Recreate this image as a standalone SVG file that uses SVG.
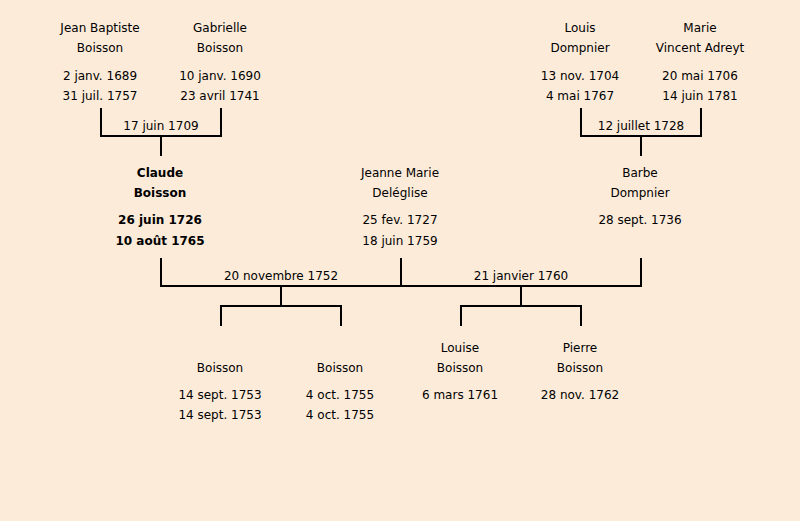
<svg xmlns="http://www.w3.org/2000/svg" width="800" height="521" viewBox="0 0 800 521">
<style>
text{font-family:"DejaVu Sans","Liberation Sans",sans-serif;font-size:12px;fill:#000;text-anchor:middle}
.b{font-weight:bold}
.c path{fill:none;stroke:#000;stroke-width:2}
</style>
<rect width="800" height="521" fill="#FCEBD9"/>
<g class="c" id="connectors">
<path d="M101 108V136H221V108M161 136V156"/>
<path d="M581 108V136H701V108M641 136V156"/>
<path d="M161 258V286H641V258M401 258V286M281 286V306M521 286V306"/>
<path d="M221 326V306H341V326"/>
<path d="M461 326V306H581V326"/>
</g>
<g id="labels">
<text x="161" y="130">17 juin 1709</text>
<text x="641" y="130">12 juillet 1728</text>
<text x="281" y="280">20 novembre 1752</text>
<text x="521" y="280">21 janvier 1760</text>
</g>
<g id="jean"><text x="100" y="32">Jean Baptiste</text><text x="100" y="52">Boisson</text><text x="100" y="80">2 janv. 1689</text><text x="100" y="100">31 juil. 1757</text></g>
<g id="gabrielle"><text x="220" y="32">Gabrielle</text><text x="220" y="52">Boisson</text><text x="220" y="80">10 janv. 1690</text><text x="220" y="100">23 avril 1741</text></g>
<g id="louis"><text x="580" y="32">Louis</text><text x="580" y="52">Dompnier</text><text x="580" y="80">13 nov. 1704</text><text x="580" y="100">4 mai 1767</text></g>
<g id="marie"><text x="700" y="32">Marie</text><text x="700" y="52">Vincent Adreyt</text><text x="700" y="80">20 mai 1706</text><text x="700" y="100">14 juin 1781</text></g>
<g id="claude" class="b"><text class="b" x="160" y="177">Claude</text><text class="b" x="160" y="197">Boisson</text><text class="b" x="160" y="224">26 juin 1726</text><text class="b" x="160" y="245">10 août 1765</text></g>
<g id="jeanne"><text x="400" y="177">Jeanne Marie</text><text x="400" y="197">Deléglise</text><text x="400" y="224">25 fev. 1727</text><text x="400" y="245">18 juin 1759</text></g>
<g id="barbe"><text x="640" y="177">Barbe</text><text x="640" y="197">Dompnier</text><text x="640" y="224">28 sept. 1736</text></g>
<g id="child1"><text x="220" y="372">Boisson</text><text x="220" y="399">14 sept. 1753</text><text x="220" y="419">14 sept. 1753</text></g>
<g id="child2"><text x="340" y="372">Boisson</text><text x="340" y="399">4 oct. 1755</text><text x="340" y="419">4 oct. 1755</text></g>
<g id="louise"><text x="460" y="352">Louise</text><text x="460" y="372">Boisson</text><text x="460" y="399">6 mars 1761</text></g>
<g id="pierre"><text x="580" y="352">Pierre</text><text x="580" y="372">Boisson</text><text x="580" y="399">28 nov. 1762</text></g>
</svg>
